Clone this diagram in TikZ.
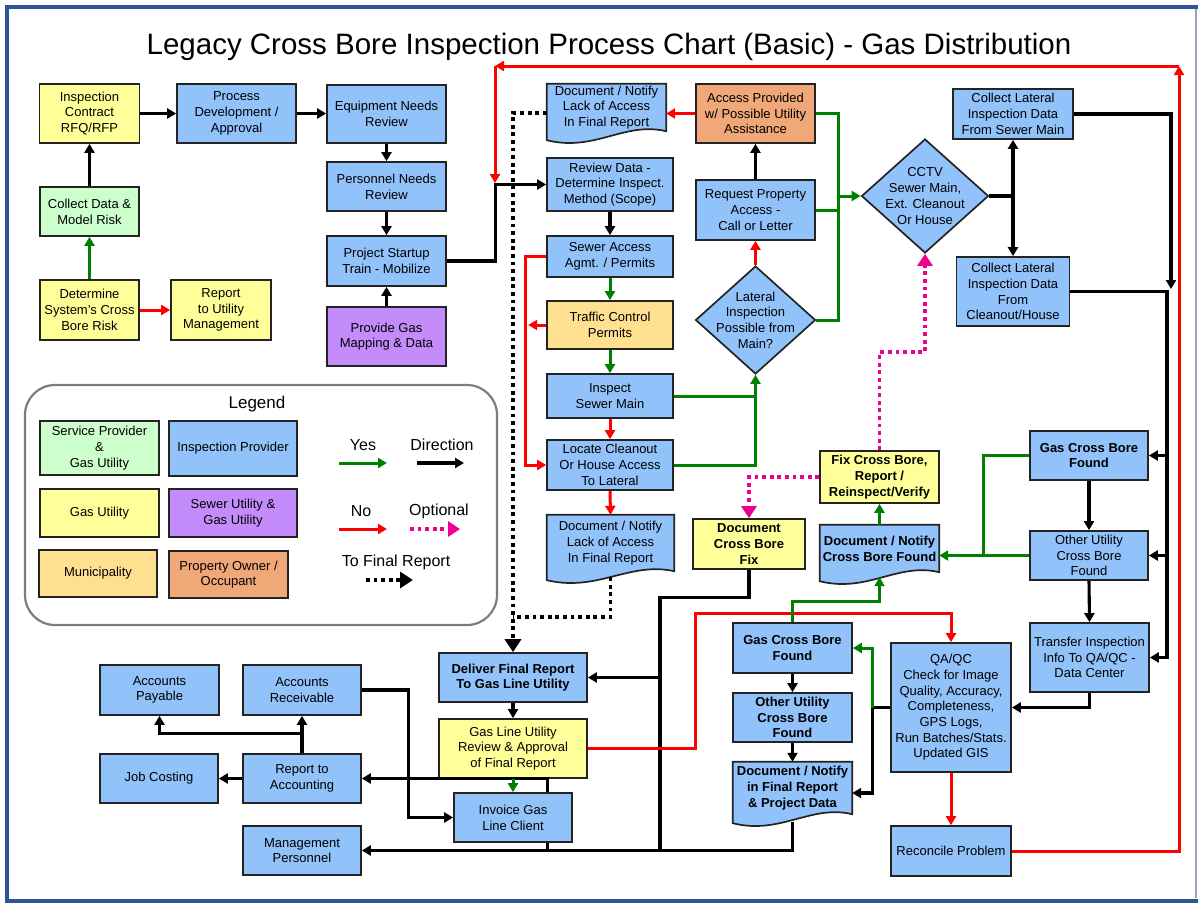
\documentclass[tikz,border=0pt]{standalone}
\usepackage{fontspec}
\setmainfont{Liberation Sans}
\usetikzlibrary{arrows.meta,shapes.geometric,calc}
\definecolor{cblue}{RGB}{145,194,250}
\definecolor{cyellow}{RGB}{255,255,153}
\definecolor{cgreen}{RGB}{204,255,204}
\definecolor{cpurple}{RGB}{196,140,250}
\definecolor{cmuni}{RGB}{254,224,144}
\definecolor{corange}{RGB}{240,168,120}
\definecolor{ggreen}{RGB}{0,128,0}
\definecolor{boxline}{RGB}{35,35,35}
\definecolor{framecol}{RGB}{47,84,150}
\definecolor{frameside}{RGB}{150,165,190}
\definecolor{legline}{RGB}{125,125,125}
\pgfdeclarelayer{bg}
\pgfsetlayers{bg,main}
\newcommand\nfs{\fontsize{13}{15.7}\selectfont}
\newcommand\mydoc[2]{\path[docsty] (#1.north west) -- (#1.north east) -- (#1.south east) .. controls +(-0.35*#2,-10) and +(0.4*#2,12) .. ($(#1.south west)+(0,9)$) -- cycle;}
\begin{document}
\begin{tikzpicture}[x=1pt,y=-1pt,
  bx/.style={draw=boxline, line width=1.7pt, align=center, inner sep=1pt, font=\nfs},
  bxb/.style={bx, font=\nfs\bfseries},
  sz/.style 2 args={minimum width=#1pt, minimum height=#2pt},
  doc/.style={align=center, inner sep=1pt, font=\nfs},
  docsty/.style={draw=boxline, line width=1.7pt, fill=cblue},
  txt/.style={align=center, inner sep=0pt, font=\nfs},
  blk/.style={draw=black, line width=3.1pt, -{Triangle[length=9pt,width=10pt]}},
  blkline/.style={draw=black, line width=3.1pt},
  grn/.style={draw=ggreen, line width=3pt, -{Triangle[length=9pt,width=10pt]}},
  grnline/.style={draw=ggreen, line width=3pt},
  rd/.style={draw=red, line width=3pt, -{Triangle[length=9pt,width=10pt]}},
  opt/.style={draw=magenta, line width=3.8pt, dash pattern=on 3.8pt off 3.8pt, -{Triangle[length=12pt,width=15pt]}},
  fin/.style={draw=black, line width=3.8pt, dash pattern=on 3.8pt off 3.8pt, -{Triangle[length=13pt,width=16pt]}},
  finline/.style={draw=black, line width=3.8pt, dash pattern=on 3.8pt off 3.8pt}
]
\useasboundingbox (0,0) rectangle (1198,903);
% frame
\draw[framecol, line width=4pt] (7,900.5) -- (7,7) -- (1198,7);
\draw[framecol, line width=4pt] (5,900.5) -- (1198,900.5);
\draw[frameside, line width=1.5pt] (1196,9) -- (1196,898);

% title
\node[inner sep=0pt] (title) at (609,47) {\fontsize{29.5}{32}\selectfont Legacy Cross Bore Inspection Process Chart (Basic) - Gas Distribution};

% left group
\node[bx, fill=cyellow, sz={100}{59}] (inspc) at (89.5,113.5) {Inspection\\Contract\\RFQ/RFP};
\node[bx, fill=cblue, sz={119}{59}] (procdev) at (236.5,113.5) {Process\\Development /\\Approval};
\node[bx, fill=cblue, sz={119}{58}] (equip) at (386.5,114) {Equipment Needs\\Review};
\node[bx, fill=cblue, sz={119}{49}] (personnel) at (386.5,186.5) {Personnel Needs\\Review};
\node[bx, fill=cblue, sz={119}{50}] (startup) at (386.5,261) {Project Startup\\Train - Mobilize};
\node[bx, fill=cpurple, sz={119}{59}] (gasmap) at (386.5,336.5) {Provide Gas\\Mapping \& Data};
\node[bx, fill=cgreen, sz={99}{49}] (collect) at (89.5,211.5) {Collect Data \&\\Model Risk};
\node[bx, fill=cyellow, sz={99}{60}] (determine) at (89.5,310) {Determine\\System's Cross\\Bore Risk};
\node[bx, fill=cyellow, sz={100}{60}] (reportum) at (221,310) {Report\\to Utility\\Management};

% middle column
\node[doc, sz={119}{47}] (docnotify1) at (606.5,107.5) {Document / Notify\\Lack of Access\\In Final Report};
\node[bx, fill=corange, sz={119}{59}] (access) at (755.5,113.5) {Access Provided\\w/ Possible Utility\\Assistance};
\node[bx, fill=cblue, sz={126}{53}] (review) at (610,184.5) {Review Data -\\Determine Inspect.\\Method (Scope)};
\node[bx, fill=cblue, sz={126}{41}] (sewer) at (610,256.5) {Sewer Access\\Agmt. / Permits};
\node[bx, fill=cmuni, sz={126}{48}] (traffic) at (610,325) {Traffic Control\\Permits};
\node[bx, fill=cblue, sz={126}{44}] (inspect) at (610,396) {Inspect\\Sewer Main};
\node[bx, fill=cblue, sz={126}{50}] (locate) at (610,465) {Locate Cleanout\\Or House Access\\To Lateral};
\node[doc, sz={127}{56}] (docnotify2) at (610.5,543) {Document / Notify\\Lack of Access\\In Final Report};
\node[bx, fill=cblue, sz={119}{60}] (request) at (755.5,210) {Request Property\\Access -\\Call or Letter};
\node[diamond, draw=boxline, line width=1.7pt, fill=cblue, minimum width=120pt, minimum height=108pt, inner sep=0pt] (lateral) at (755.5,320) {};
\node[txt] (lateraltxt) at (lateral) {Lateral\\Inspection\\Possible from\\Main?};
\node[diamond, draw=boxline, line width=1.7pt, fill=cblue, minimum width=127pt, minimum height=114pt, inner sep=0pt] (cctv) at (925,196) {};
\node[txt] (cctvtxt) at (cctv) {CCTV\\Sewer Main,\\Ext. Cleanout\\Or House};
\node[bx, fill=cblue, sz={120}{50}] (collsewer) at (1013,114) {Collect Lateral\\Inspection Data\\From Sewer Main};
\node[bx, fill=cblue, sz={113}{69}] (collclean) at (1013,291.5) {Collect Lateral\\Inspection Data\\From\\Cleanout/House};

% right column
\node[bxb, fill=cblue, sz={118}{49}] (gascb1) at (1089,455.5) {Gas Cross Bore\\Found};
\node[bx, fill=cblue, sz={118}{49}] (othercb1) at (1089,555.5) {Other Utility\\Cross Bore\\Found};
\node[bx, fill=cblue, sz={119}{69}] (transfer) at (1089.5,657.5) {Transfer Inspection\\Info To QA/QC -\\Data Center};
\node[bxb, fill=cyellow, sz={119}{52}] (fixcb) at (879.5,477) {Fix Cross Bore,\\Report /\\Reinspect/Verify};
\node[bxb, fill=cyellow, sz={112}{50}] (doccbfix) at (749,544) {Document\\Cross Bore\\Fix};
\node[doc, font=\nfs\bfseries, sz={119}{47}] (docnotifycb) at (879.5,548.5) {Document / Notify\\Cross Bore Found};
\node[bxb, fill=cblue, sz={119}{50}] (gascb2) at (792.5,648) {Gas Cross Bore\\Found};
\node[bxb, fill=cblue, sz={119}{49}] (othercb2) at (792.5,717.5) {Other Utility\\Cross Bore\\Found};
\node[doc, font=\nfs\bfseries, sz={119}{52}] (docfinal) at (792.5,788) {Document / Notify\\in Final Report\\\& Project Data};
\node[bx, fill=cblue, sz={120}{129}] (qaqc) at (951,707.5) {QA/QC\\Check for Image\\Quality, Accuracy,\\Completeness,\\GPS Logs,\\Run Batches/Stats.\\Updated GIS};
\node[bx, fill=cblue, sz={120}{50}] (reconcile) at (951,851) {Reconcile Problem};

% bottom left
\node[bxb, fill=cblue, sz={148}{49}] (deliver) at (513,677.5) {Deliver Final Report\\To Gas Line Utility};
\node[bx, fill=cyellow, sz={148}{59}] (gasreview) at (513,748.5) {Gas Line Utility\\Review \& Approval\\of Final Report};
\node[bx, fill=cblue, sz={118}{49}] (invoice) at (513,817.5) {Invoice Gas\\Line Client};
\node[bx, fill=cblue, sz={119}{50}] (accpay) at (159.5,690) {Accounts\\Payable};
\node[bx, fill=cblue, sz={118}{50}] (accrec) at (302,690) {Accounts\\Receivable};
\node[bx, fill=cblue, sz={118}{49}] (jobcost) at (159,778.5) {Job Costing};
\node[bx, fill=cblue, sz={118}{49}] (reportacc) at (302,778.5) {Report to\\Accounting};
\node[bx, fill=cblue, sz={118}{49}] (mgmt) at (302,850.5) {Management\\Personnel};

% document shapes
\begin{pgfonlayer}{bg}
\mydoc{docnotify1}{119}
\mydoc{docnotify2}{127}
\mydoc{docnotifycb}{119}
\mydoc{docfinal}{119}
\end{pgfonlayer}

% legend
\draw[legline, line width=2.2pt, rounded corners=30pt] (25,385) rectangle (497,625);
\node[font=\fontsize{17}{19}\selectfont, inner sep=0pt] (legtitle) at (257,404) {Legend};
\node[bx, fill=cgreen, sz={119}{54}, font=\fontsize{13}{16}\selectfont] (lg1) at (99.5,448) {Service Provider\\\&\\Gas Utility};
\node[bx, fill=cblue, sz={128}{55}] (lg2) at (233,448.5) {Inspection Provider};
\node[bx, fill=cyellow, sz={119}{48}] (lg3) at (99.5,513) {Gas Utility};
\node[bx, fill=cpurple, sz={128}{48}] (lg4) at (233,513) {Sewer Utility \&\\Gas Utility};
\node[bx, fill=cmuni, sz={118}{47}] (lg5) at (98,573.5) {Municipality};
\node[bx, fill=corange, sz={119}{47}] (lg6) at (228.5,574.5) {Property Owner /\\Occupant};
\node[font=\fontsize{16}{18}\selectfont, inner sep=0pt] (lyes) at (363,445) {Yes};
\node[font=\fontsize{16}{18}\selectfont, inner sep=0pt] (ldir) at (442,445) {Direction};
\node[font=\fontsize{16}{18}\selectfont, inner sep=0pt] (lno) at (361,511) {No};
\node[font=\fontsize{16}{18}\selectfont, inner sep=0pt] (lopt) at (439,511) {Optional};
\node[font=\fontsize{16}{18}\selectfont, inner sep=0pt] (lfin) at (396,562) {To Final Report};
\coordinate (ya) at (339,463); \coordinate (yb) at (387,463);
\coordinate (da) at (417,463); \coordinate (db) at (464,463);
\coordinate (na) at (339,529); \coordinate (nb) at (387,529);
\coordinate (oa) at (410,529); \coordinate (ob) at (460,529);
\coordinate (fa) at (366,580); \coordinate (fb) at (413,580);
\draw[grn] (ya) -- (yb);
\draw[blk] (da) -- (db);
\draw[rd] (na) -- (nb);
\draw[opt] (oa) -- (ob);
\draw[fin] (fa) -- (fb);

% ---- connectors ----
\draw[blk] (collect.north) -- (collect.north |- inspc.south);
\draw[grn] (determine.north) -- (collect.south);
\draw[rd] (determine.east) -- (reportum.west);
\draw[blk] (inspc.east) -- (procdev.west);
\draw[blk] (procdev.east) -- (procdev.east -| equip.west);
\draw[blk] (equip.south) -- (personnel.north);
\draw[blk] (personnel.south) -- (startup.north);
\draw[blk] (gasmap.north) -- (startup.south);
\draw[blk] (startup.east) -- ++(49,0) |- (review.west);

\draw[blk] (review.south) -- (sewer.north);
\draw[grn] (sewer.south) -- (traffic.north);
\draw[grn] (traffic.south) -- (inspect.north);
\draw[rd] (inspect.south) -- (locate.north);
\draw[rd] (locate.south) -- (docnotify2.north);
\draw[rd] (sewer.west) -- ++(-21,0) |- (locate.west);
\draw[rd] (traffic.west) -- ++(-18,0);
\draw[fin] ($(docnotify1.west)+(0,5.5)$) -| (deliver.north);
\draw[finline] ($(docnotify2.south)+(0,6)$) |- (513,617);

\draw[blk] (request.north) -- (access.south);
\draw[rd] (lateral.north) -- (request.south);
\draw[rd] (access.west) -- (access.west -| docnotify1.east);
\draw[grn] (access.east) -- ++(23,0) |- (cctv.west);
\draw[grnline] (request.east) -- ++(23,0);
\draw[grnline] (lateral.east) -| (838,196);
\draw[grn] (inspect.east) -| (lateral.south);
\draw[grnline] (locate.east) -| (755.5,396);

\draw[blk] (cctv.east) -| (collsewer.south);
\draw[blk] (cctv.east) -| (collclean.north);
\draw[blk] (collsewer.east) -| (1171,289);
\coordinate (rbus) at (1167,291.5);
\draw[blk] (collclean.east) -- (rbus) |- (transfer.east);
\draw[blk] (gascb1.east -| rbus) -- (gascb1.east);
\draw[blk] (othercb1.east -| rbus) -- (othercb1.east);
\draw[blk] (gascb1.south) -- (othercb1.north);
\draw[blk] (othercb1.south) -- (transfer.north);
\draw[blk] (transfer.south) |- (qaqc.east);

\draw[grn] (gascb1.west) -- ++(-46,0) |- (othercb1.west -| docnotifycb.east);
\draw[grnline] (othercb1.west) -- ++(-46,0);
\draw[grn] (docnotifycb.north) -- (fixcb.south);
\draw[opt] (fixcb.north) -- ++(0,-98) -| (cctv.south);
\draw[opt] (fixcb.west) -| (doccbfix.north);

\coordinate (bbus) at (660,850.5);
\draw[blkline] (doccbfix.south) -- ++(0,28) -| (bbus);
\draw[blk] (deliver.east -| bbus) -- (deliver.east);
\draw[blk] ($(docfinal.south)+(0,8)$) |- (mgmt.east);
\draw[blkline] ([xshift=-25pt]invoice.south east) -- ++(0,9);
\draw[blk] ([xshift=-25pt]invoice.north east) |- (reportacc.east);
\draw[grn] (gasreview.south) -- (invoice.north);
\draw[blk] (deliver.south) -- (gasreview.north);
\draw[blk] (accrec.east) -- ++(47,0) |- (invoice.west);
\draw[blk] (reportacc.north) -- (accrec.south);
\draw[blk] ($(reportacc.north)+(0,-20)$) -| (accpay.south);
\draw[blk] (reportacc.west) -- (jobcost.east);

\draw[rd] (gasreview.east) -- ++(108,0) -- ++(0,-135.5) -| (qaqc.north);
\draw[grn] (gascb2.north) -- ++(0,-21) -| ($(docnotifycb.south)+(0,5)$);
\draw[blkline] (qaqc.west) -- ++(-18,0);
\draw[grn] ($(qaqc.west)+(-18,0)$) |- (gascb2.east);
\draw[blk] ($(qaqc.west)+(-18,0)$) |- ($(docfinal.east)+(0,5)$);
\draw[blk] (gascb2.south) -- (othercb2.north);
\draw[blk] (othercb2.south) -- (docfinal.north);
\draw[rd] (qaqc.south) -- (reconcile.north);

\coordinate (rtr) at (1179,66);
\coordinate (rtl) at (495,66);
\draw[rd] (reconcile.east) -| (rtr);
\draw[rd] (rtr) -- (rtl);
\draw[rd] (rtl) -- ++(0,117);
\end{tikzpicture}
\end{document}
